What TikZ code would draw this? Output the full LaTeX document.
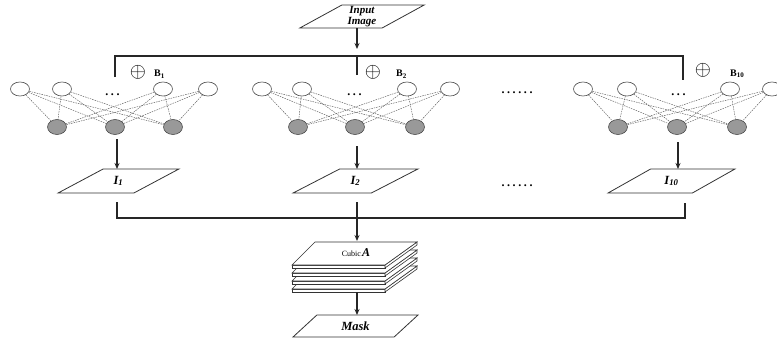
\documentclass[tikz,border=0pt]{standalone}
\usepackage{fontspec}
\setmainfont{Liberation Serif}
\usetikzlibrary{shapes.geometric,arrows.meta}
\begin{document}
\begin{tikzpicture}[x=1pt,y=-1pt,
  line/.style={draw=black!85,line width=1.1pt},
  arr/.style={line,-{Stealth[length=6pt,width=5pt]}},
  para/.style={trapezium,trapezium left angle=35,trapezium right angle=145,trapezium stretches=true,draw=black!80,line width=0.8pt,inner sep=0pt,outer sep=0pt,font=\bfseries\itshape\fontsize{12.5}{13}\selectfont,align=center},
  wnode/.style={ellipse,draw=black!70,fill=white,line width=0.6pt,minimum width=19pt,minimum height=14pt,inner sep=0pt},
  gnode/.style={ellipse,draw=black!70,fill=black!40,line width=0.6pt,minimum width=19pt,minimum height=15pt,inner sep=0pt},
  conn/.style={draw=black!65,line width=0.45pt,dash pattern=on 1.5pt off 1pt},
  dots/.style={font=\bfseries\large,inner sep=0pt,anchor=base},
  blabel/.style={font=\bfseries\normalsize,anchor=west,inner sep=0pt},
  plus/.style={inner sep=0pt,font=\huge},
  sheet/.style={draw=black!80,fill=white,line width=0.6pt}
]
\useasboundingbox (0,0) rectangle (777,343);
\newcommand{\dotsep}{\hspace{2.6pt}}

% input
\node[para,minimum width=125pt,minimum height=23pt,font=\bfseries\itshape\fontsize{11}{11.5}\selectfont] (input) at (362,16.5) {Input\\Image};
\coordinate (injoin) at (357,49);
\draw[arr] (input.south -| injoin) -- (injoin);

% top distribution line
\coordinate (t1) at (115,77);
\coordinate (t2) at (357,75);
\coordinate (t3) at (683,80);
\coordinate (tl) at (115,56);
\coordinate (tr) at (683,56);
\draw[line] (t1) -- (tl) -- (tr) -- (t3);
\draw[line] (t2) -- (t2 |- tl);

% oplus and B labels
\node[plus] (p1) at (138,72) {$\oplus$};
\node[blabel] (b1) at (154,74) {B\textsubscript{1}};
\node[plus] (p2) at (373,72) {$\oplus$};
\node[blabel] (b2) at (396,74) {B\textsubscript{2}};
\node[plus] (p3) at (703,70) {$\oplus$};
\node[blabel] (b3) at (730,74) {B\textsubscript{10}};

% networks
\foreach \k/\xa/\xb/\xc/\xd/\ya/\yb/\yc in {1/20/62/163/208/57/115/173, 2/262/302/407/450/298/355/415, 3/583/627/730/772/618/677/737} {
  \node[wnode] (w\k-1) at (\xa,89) {};
  \node[wnode] (w\k-2) at (\xb,89) {};
  \node[wnode] (w\k-3) at (\xc,89) {};
  \node[wnode] (w\k-4) at (\xd,89) {};
  \node[gnode] (g\k-1) at (\ya,127) {};
  \node[gnode] (g\k-2) at (\yb,127) {};
  \node[gnode] (g\k-3) at (\yc,127) {};
  \foreach \i in {1,2,3,4} {
    \foreach \j in {1,2,3} {
      \draw[conn] (w\k-\i) -- (g\k-\j);
    }
  }
  \node[dots] (dd\k) at ({(\xb+\xc)/2},95) {.\dotsep.\dotsep.};
}
\node[dots] (mid1) at (517,93) {.\dotsep.\dotsep.\dotsep.\dotsep.\dotsep.};

% outputs
\node[para,minimum width=121pt,minimum height=24pt] (i1) at (118.5,181) {I\textsubscript{1}};
\node[para,minimum width=125pt,minimum height=24pt] (i2) at (355.5,181) {I\textsubscript{2}};
\node[para,minimum width=127pt,minimum height=24pt] (i3) at (671.5,181) {I\textsubscript{10}};
\node[dots] (mid2) at (517,186) {.\dotsep.\dotsep.\dotsep.\dotsep.\dotsep.};

\coordinate (a1) at (117,139);
\coordinate (a2) at (357,146);
\coordinate (a3) at (678,142);
\draw[arr] (a1) -- (a1 |- i1.north);
\draw[arr] (a2) -- (a2 |- i2.north);
\draw[arr] (a3) -- (a3 |- i3.north);

% collecting line
\coordinate (c1) at (117,202);
\coordinate (c3) at (685,203);
\coordinate (cl) at (117,218);
\coordinate (cr) at (685,218);
\draw[line] (c1) -- (cl) -- (cr) -- (c3);

% cube of stacked sheets
\foreach \k in {3,2,1,0} {
  \pgfmathsetmacro{\yf}{265+8*\k}
  \path[sheet] (292,\yf) -- (385,\yf) -- (385,\yf+3) -- (292,\yf+3) -- cycle;
  \path[sheet] (385,\yf) -- (417,\yf-23) -- (417,\yf-20) -- (385,\yf+3) -- cycle;
  \path[sheet] (292,\yf) -- (385,\yf) -- (417,\yf-23) -- (315,\yf-23) -- cycle;
}
\node[inner sep=1pt] (cube) at (356,253) {\footnotesize Cubic\,\textbf{\textit{\large A}}};
\coordinate (cubetop) at (357,241);
\coordinate (cubebot) at (357,292);
\coordinate (ctop) at (357,202);
\draw[arr] (ctop) -- (cubetop);

% mask
\node[para,minimum width=125pt,minimum height=22pt,trapezium left angle=45,trapezium right angle=135] (mask) at (355.5,326) {Mask};
\draw[arr] (cubebot) -- (cubebot |- mask.north);
\end{tikzpicture}
\end{document}
